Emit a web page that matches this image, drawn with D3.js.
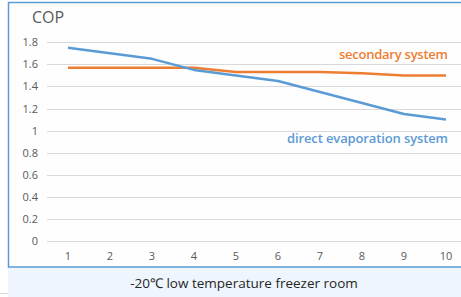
<html>
<head>
    <script src="https://d3js.org/d3.v7.min.js" charset="utf-8"></script>
    <style>
        body { margin: 0; background: #ffffff; }
        text { font-family: "Open Sans", sans-serif; }
    </style>
</head>

<body>
    <script type="text/javascript">
        // Chart data
        var categories = [1, 2, 3, 4, 5, 6, 7, 8, 9, 10];
        var directValues = [1.75, 1.70, 1.65, 1.55, 1.50, 1.45, 1.35, 1.25, 1.15, 1.10];
        var secondaryValues = [1.57, 1.57, 1.57, 1.57, 1.53, 1.53, 1.53, 1.52, 1.50, 1.50];
        var yTicks = [0, 0.2, 0.4, 0.6, 0.8, 1, 1.2, 1.4, 1.6, 1.8];

        var width = 461;
        var height = 297;

        var svg = d3.select("body").append("svg")
            .attr("width", width)
            .attr("height", height);

        // Frame and caption band
        svg.append("rect")
            .attr("x", 0).attr("y", 293).attr("width", 9).attr("height", 1)
            .attr("fill", "#d8d8d8");
        svg.append("rect")
            .attr("x", 8).attr("y", 267).attr("width", width).attr("height", 30)
            .attr("fill", "#eef5fc");
        svg.append("rect")
            .attr("x", 8.5).attr("y", 2.5).attr("width", width).attr("height", 264.5)
            .attr("fill", "#fefefe")
            .attr("stroke", "#5b9bd5")
            .attr("stroke-width", 1.5);

        // Scales
        var x = d3.scalePoint()
            .domain(categories)
            .range([68, 446]);

        var y = d3.scaleLinear()
            .domain([0, 1.8])
            .range([241, 42.3]);

        // Gridlines
        svg.append("g")
            .selectAll("line")
            .data(yTicks)
            .join("line")
                .attr("x1", 47)
                .attr("x2", 467)
                .attr("y1", d => Math.round(y(d)) + 0.5)
                .attr("y2", d => Math.round(y(d)) + 0.5)
                .attr("stroke", "#d9d9d9")
                .attr("stroke-width", 1);

        // Y axis labels
        svg.append("g")
            .selectAll("text")
            .data(yTicks)
            .join("text")
                .attr("x", 38)
                .attr("y", d => y(d) + 4)
                .attr("text-anchor", "end")
                .attr("font-size", 11)
                .attr("fill", "#595959")
                .text(d => d);

        // X axis labels
        svg.append("g")
            .selectAll("text")
            .data(categories)
            .join("text")
                .attr("x", d => x(d))
                .attr("y", 260)
                .attr("text-anchor", "middle")
                .attr("font-size", 11)
                .attr("fill", "#595959")
                .text(d => d);

        // Lines
        var line = d3.line()
            .x((d, i) => x(categories[i]))
            .y(d => y(d));

        svg.append("path")
            .datum(secondaryValues)
            .attr("d", line)
            .attr("fill", "none")
            .attr("stroke", "#ed7d31")
            .attr("stroke-width", 2.5)
            .attr("stroke-linejoin", "round");

        svg.append("path")
            .datum(directValues)
            .attr("d", line)
            .attr("fill", "none")
            .attr("stroke", "#5b9bd5")
            .attr("stroke-width", 2.5)
            .attr("stroke-linejoin", "round");

        // Titles and series labels
        svg.append("text")
            .attr("x", 32).attr("y", 23)
            .attr("font-size", 16)
            .attr("fill", "#595959")
            .text("COP");

        svg.append("text")
            .attr("x", 448).attr("y", 59)
            .attr("text-anchor", "end")
            .attr("font-size", 13)
            .attr("font-weight", 600)
            .attr("textLength", 109)
            .attr("fill", "#ed7d31")
            .text("secondary system");

        svg.append("text")
            .attr("x", 448).attr("y", 143)
            .attr("text-anchor", "end")
            .attr("font-size", 13)
            .attr("font-weight", 600)
            .attr("textLength", 161)
            .attr("fill", "#5b9bd5")
            .text("direct evaporation system");

        svg.append("text")
            .attr("x", 244).attr("y", 288)
            .attr("text-anchor", "middle")
            .attr("font-size", 13.5)
            .attr("fill", "#262626")
            .text("-20℃ low temperature freezer room");
    </script>
</body>

</html>
